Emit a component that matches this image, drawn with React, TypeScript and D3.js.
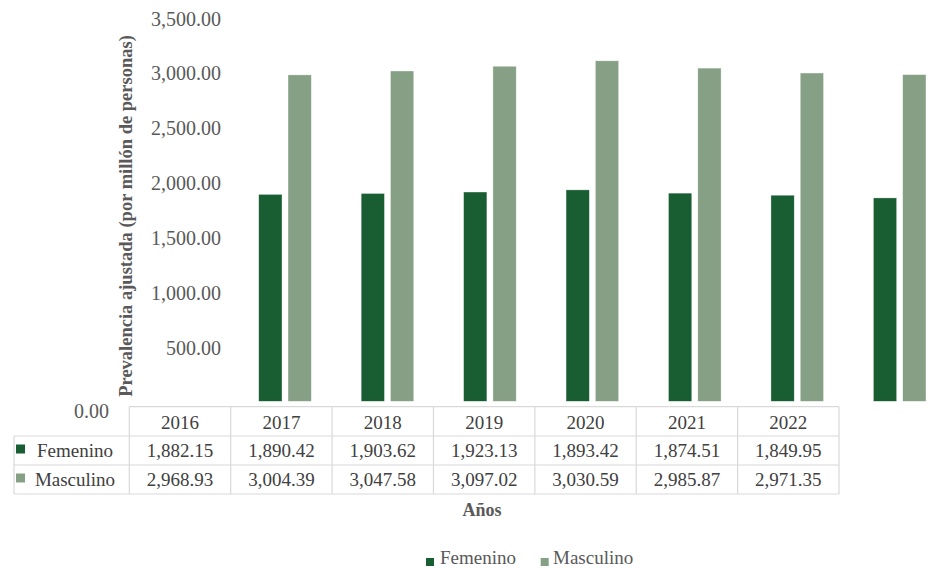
import React from "react";
import * as d3 from "d3";

const years = ["2016", "2017", "2018", "2019", "2020", "2021", "2022"];
const femenino = [1882.15, 1890.42, 1903.62, 1923.13, 1893.42, 1874.51, 1849.95];
const masculino = [2968.93, 3004.39, 3047.58, 3097.02, 3030.59, 2985.87, 2971.35];
const yTicks = [0, 500, 1000, 1500, 2000, 2500, 3000, 3500];
const seriesNames = ["Femenino", "Masculino"];
const seriesValues = [femenino, masculino];
const colors = ["#185e32", "#86a086"];

const fmt = d3.format(",.2f");
const FONT = "Liberation Serif, DejaVu Serif, Noto Serif, serif";

export default function App() {
  const W = 933;
  const H = 568;
  const y = d3.scaleLinear().domain([0, 3500]).range([401.3, 16.5]);
  const xBars = d3.scaleBand<string>().domain(years).range([233.8, 950.9]);
  const xSub = d3
    .scaleBand<string>()
    .domain(seriesNames)
    .range([0, xBars.step()])
    .paddingInner(0.205)
    .paddingOuter(0.85);
  const xTable = d3.scaleBand<string>().domain(years).range([129.3, 839]);

  const rowTops = [406.7, 436, 465, 494];
  const tableLeft = 14;
  const gridColor = "#d9d9d9";
  const textColor = "#404040";

  return (
    <div style={{ position: "fixed", left: 0, top: 0 }}>
      <svg width={W} height={H} style={{ display: "block", background: "#fff", fontFamily: FONT }}>
        {/* Y axis title */}
        <text
          transform={`translate(131.5, 216) rotate(-90)`}
          textAnchor="middle"
          fontSize={18.5}
          fontWeight="bold"
          fill="#595959"
          style={{ fontFamily: FONT }}
        >
          Prevalencia ajustada (por millón de personas)
        </text>

        {/* Y tick labels */}
        {yTicks.map((t) => (
          <text
            key={t}
            x={t === 0 ? 109 : 221}
            y={y(t)}
            dy="0.35em"
            transform={t === 0 ? "translate(0, 10)" : "translate(0, 2)"}
            textAnchor="end"
            fontSize={20}
            fill="#595959"
            style={{ fontFamily: FONT }}
          >
            {fmt(t)}
          </text>
        ))}

        {/* Bars */}
        {years.map((yr, i) => (
          <g key={yr} transform={`translate(${xBars(yr)},0)`}>
            {seriesNames.map((s, j) => (
              <rect
                key={s}
                x={xSub(s)}
                y={y(seriesValues[j][i])}
                width={xSub.bandwidth()}
                height={y(0) - y(seriesValues[j][i])}
                fill={colors[j]}
                stroke="#ffffff"
                strokeOpacity={0.6}
                strokeWidth={0.6}
              />
            ))}
          </g>
        ))}

        {/* Data table grid */}
        <g stroke={gridColor} strokeWidth={1.2} fill="none">
          <line x1={xTable.range()[0]} x2={xTable.range()[1]} y1={rowTops[0]} y2={rowTops[0]} />
          {rowTops.slice(1).map((ry) => (
            <line key={ry} x1={tableLeft} x2={xTable.range()[1]} y1={ry} y2={ry} />
          ))}
          <line x1={tableLeft} x2={tableLeft} y1={rowTops[1]} y2={rowTops[3]} />
          {years.map((yr) => (
            <line key={yr} x1={xTable(yr)} x2={xTable(yr)} y1={rowTops[0]} y2={rowTops[3]} />
          ))}
          <line x1={xTable.range()[1]} x2={xTable.range()[1]} y1={rowTops[0]} y2={rowTops[3]} />
        </g>

        {/* Header row */}
        {years.map((yr) => (
          <text
            key={yr}
            x={xTable(yr)! + xTable.bandwidth() / 2}
            y={(rowTops[0] + rowTops[1]) / 2 + 1}
            dy="0.35em"
            textAnchor="middle"
            fontSize={19}
            fill={textColor}
            style={{ fontFamily: FONT }}
          >
            {yr}
          </text>
        ))}

        {/* Series rows */}
        {seriesNames.map((s, j) => {
          const cy = (rowTops[j + 1] + rowTops[j + 2]) / 2;
          return (
            <g key={s}>
              <rect x={16} y={cy - 6} width={9} height={9} fill={colors[j]} />
              <text x={75} y={cy} dy="0.35em" textAnchor="middle" fontSize={19} fill={textColor} style={{ fontFamily: FONT }}>
                {s}
              </text>
              {years.map((yr, i) => (
                <text
                  key={yr}
                  x={xTable(yr)! + xTable.bandwidth() / 2}
                  y={cy}
                  dy="0.35em"
                  textAnchor="middle"
                  fontSize={19}
                  fill={textColor}
                  style={{ fontFamily: FONT }}
                >
                  {fmt(seriesValues[j][i])}
                </text>
              ))}
            </g>
          );
        })}

        {/* X axis title */}
        <text x={482} y={510} dy="0.35em" textAnchor="middle" fontSize={18} fontWeight="bold" fill="#595959" style={{ fontFamily: FONT }}>
          Años
        </text>

        {/* Legend */}
        <g style={{ fontFamily: FONT }}>
          <rect x={426} y={558} width={8} height={8} fill={colors[0]} />
          <text x={440} y={557} dy="0.35em" fontSize={19} fill="#595959">
            Femenino
          </text>
          <rect x={540.7} y={558} width={8} height={8} fill={colors[1]} />
          <text x={553} y={557} dy="0.35em" fontSize={19} fill="#595959">
            Masculino
          </text>
        </g>
      </svg>
    </div>
  );
}
